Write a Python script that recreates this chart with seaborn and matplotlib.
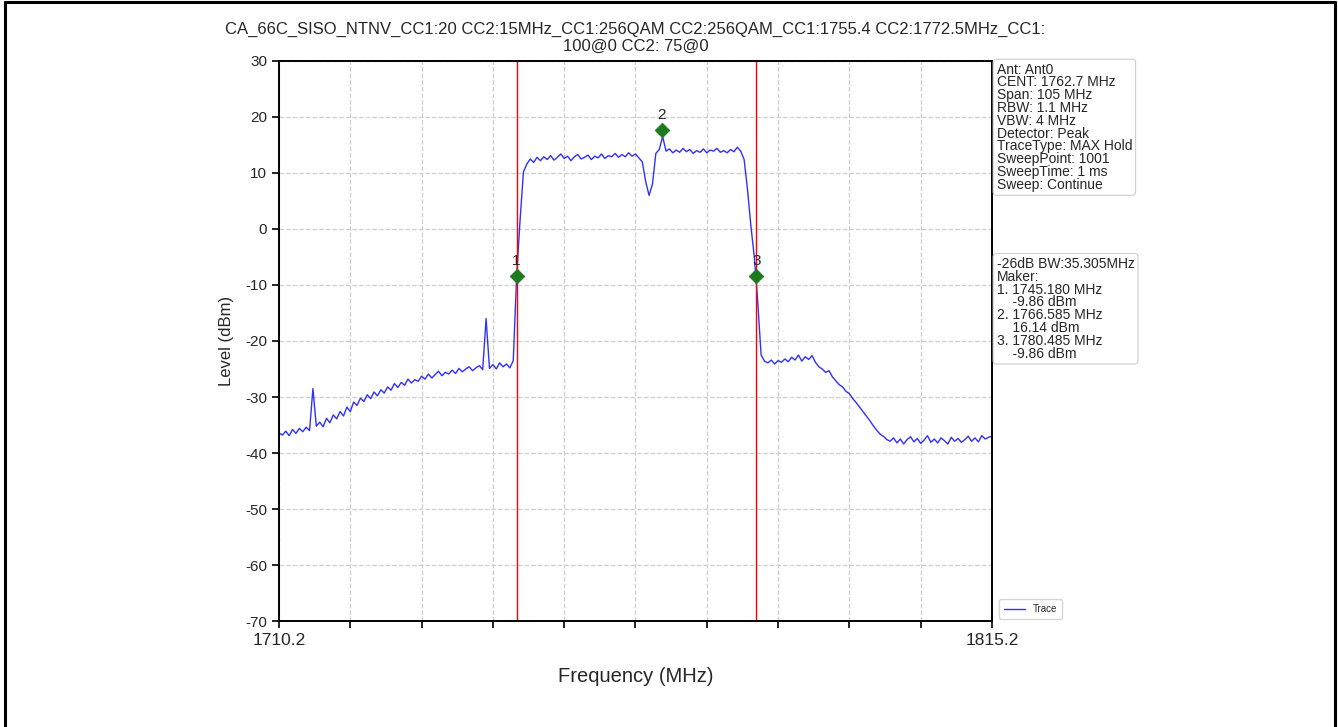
import numpy as np
import pandas as pd
import matplotlib
matplotlib.use("Agg")
import matplotlib.pyplot as plt
from matplotlib.lines import Line2D
import seaborn as sns

# sweep grid (MHz) and max-hold trace levels (dBm)
f_start, f_stop, f_step = 1710.2, 1815.2, 0.5
level_dbm = [
    -36.4, -36.8, -36.1, -36.9, -35.8, -36.5, -35.6, -36.2, -35.4, -36.0,
    -28.5, -35.2, -34.5, -35.3, -33.8, -34.6, -33.2, -33.9, -32.6, -33.4,
    -31.8, -32.6, -30.9, -31.5, -30.2, -30.8, -29.6, -30.3, -29.1, -29.8,
    -28.7, -29.3, -28.2, -28.8, -27.6, -28.3, -27.4, -27.9, -26.8, -27.5,
    -26.9, -27.2, -26.3, -26.8, -25.9, -26.6, -26.0, -25.4, -26.2, -25.6,
    -25.9, -25.2, -25.8, -24.9, -25.5, -25.0, -24.6, -25.3, -24.8, -24.4,
    -25.1, -16.0, -24.9, -24.2, -25.0, -23.9, -24.6, -24.1, -24.8, -23.5,
    -8.4, 1.5, 10.2, 11.6, 12.5, 11.9, 12.8, 12.2, 12.9, 12.4,
    13.1, 12.3, 12.8, 13.4, 12.6, 13.0, 12.2, 12.9, 13.3, 12.5,
    12.8, 13.2, 12.4, 13.0, 12.7, 13.4, 12.6, 13.1, 12.9, 13.5,
    12.8, 13.3, 12.9, 13.6, 13.0, 13.4, 12.7, 12.0, 8.5, 6.0,
    8.0, 13.5, 14.2, 16.5, 13.9, 14.3, 13.6, 14.1, 13.7, 14.4,
    13.8, 14.2, 13.5, 14.0, 13.7, 14.3, 13.6, 14.1, 13.9, 14.4,
    13.7, 14.0, 13.6, 14.2, 13.8, 14.6, 13.9, 12.4, 7.0, 0.5,
    -5.0, -13.0, -22.5, -23.6, -23.9, -23.4, -24.1, -23.5, -23.8, -23.2,
    -23.7, -22.9, -23.4, -22.5, -23.6, -22.8, -23.3, -22.6, -23.8, -24.6,
    -25.0, -25.6, -25.3, -26.4, -27.1, -27.8, -28.2, -29.0, -29.4, -30.3,
    -31.0, -31.8, -32.6, -33.4, -34.2, -35.1, -35.9, -36.6, -37.0, -37.6,
    -37.9, -37.3, -38.2, -37.5, -38.4, -37.6, -37.1, -38.0, -37.4, -38.3,
    -37.7, -36.9, -38.1, -37.5, -38.2, -37.3, -37.8, -38.4, -37.2, -37.9,
    -37.4, -38.1, -37.6, -37.0, -37.9, -37.3, -38.0, -36.9, -37.5, -37.2,
    -37.0,
]

marker_names = ["1", "2", "3"]
marker_freq = [1745.180, 1766.585, 1780.485]
marker_level = [-8.4, 17.7, -8.4]

title = ("CA_66C_SISO_NTNV_CC1:20 CC2:15MHz_CC1:256QAM CC2:256QAM_CC1:1755.4 CC2:1772.5MHz_CC1:\n"
         "100@0 CC2: 75@0")
setup_text = ("Ant: Ant0\nCENT: 1762.7 MHz\nSpan: 105 MHz\nRBW: 1.1 MHz\nVBW: 4 MHz\n"
              "Detector: Peak\nTraceType: MAX Hold\nSweepPoint: 1001\nSweepTime: 1 ms\nSweep: Continue")
marker_text = ("-26dB BW:35.305MHz\nMaker:\n1. 1745.180 MHz\n    -9.86 dBm\n2. 1766.585 MHz\n"
               "    16.14 dBm\n3. 1780.485 MHz\n    -9.86 dBm")

freq = np.round(f_start + f_step * np.arange(len(level_dbm)), 2)
trace = pd.DataFrame({"Frequency": freq, "Level": level_dbm})
markers = pd.DataFrame({"Frequency": marker_freq, "Level": marker_level, "Name": marker_names})

sns.set_style("whitegrid")
plt.rcParams["font.family"] = ["Liberation Sans", "DejaVu Sans"]
plt.rcParams["axes.unicode_minus"] = False

fig = plt.figure(figsize=(13.38, 7.27), dpi=100)
ax = fig.add_axes([0.2085, 0.1458, 0.5329, 0.7703])

sns.lineplot(data=trace, x="Frequency", y="Level", ax=ax, color="#3030ff", lw=1, label="Trace")
for f in (marker_freq[0], marker_freq[2]):
    ax.axvline(f, color="red", lw=1)
sns.scatterplot(data=markers, x="Frequency", y="Level", ax=ax, marker="D", s=55,
                color="#1f7a1f", edgecolor="#1f7a1f", zorder=5, legend=False)
for _, r in markers.iterrows():
    ax.text(r["Frequency"], r["Level"] + 1.4, r["Name"], ha="center", va="bottom", fontsize=11)

ax.set_xlim(f_start, f_stop)
ax.set_ylim(-70, 30)
xt = np.linspace(f_start, f_stop, 11)
ax.set_xticks(xt)
ax.set_xticklabels(["1710.2"] + [""] * 9 + ["1815.2"])
ax.set_yticks(range(-70, 31, 10))
ax.tick_params(axis="both", direction="out", length=5, width=1.2, color="black",
               bottom=True, left=True)
ax.tick_params(axis="x", labelsize=12.5)
ax.tick_params(axis="y", labelsize=11)
ax.grid(True, color="#cfcfcf", lw=0.9, ls="--")
for s in ax.spines.values():
    s.set_color("black")
    s.set_linewidth(1.4)

ax.set_xlabel("Frequency (MHz)", fontsize=14.5, labelpad=14)
ax.set_ylabel("Level (dBm)", fontsize=12, labelpad=8)
ax.set_title(title, fontsize=12, pad=7, linespacing=1.15)

box = dict(boxstyle="round,pad=0.25", facecolor="white", edgecolor="#cccccc", lw=0.8)
ax.text(1.0065, 0.997, setup_text, transform=ax.transAxes, va="top", ha="left",
        fontsize=10, linespacing=0.89, bbox=box)
ax.text(1.0065, 0.650, marker_text, transform=ax.transAxes, va="top", ha="left",
        fontsize=10, linespacing=0.89, bbox=box)

ax.legend(loc="lower left", bbox_to_anchor=(1.003, -0.005), fontsize=7, frameon=True,
          handlelength=2.2, borderpad=0.5)

# page frame around the screenshot
for xy in (([0.004, 0.004], [0, 0.997]), ([0.004, 0.998], [0.997, 0.997]), ([0.998, 0.998], [0, 0.997])):
    fig.add_artist(Line2D(xy[0], xy[1], color="black", lw=2.2, transform=fig.transFigure))

fig.savefig("out.png", dpi=100)
